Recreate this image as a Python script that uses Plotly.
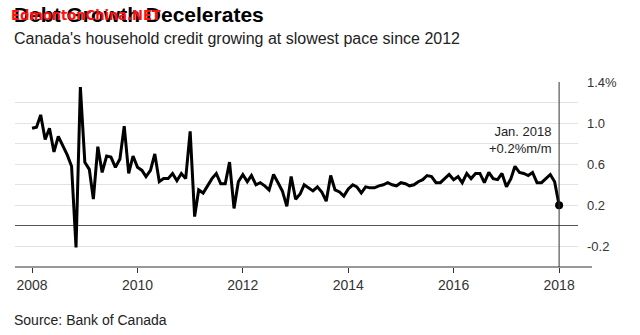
import pandas as pd
import plotly.graph_objects as go

# ---- data ----
start_month = "2008-01-01"
growth_mm = [
    0.95, 0.96, 1.08, 0.84, 0.95, 0.72, 0.87, 0.78, 0.69, 0.58, -0.21, 1.35,
    0.62, 0.55, 0.26, 0.77, 0.52, 0.68, 0.67, 0.57, 0.65, 0.97, 0.51, 0.68,
    0.57, 0.54, 0.48, 0.54, 0.70, 0.43, 0.46, 0.46, 0.51, 0.44, 0.51, 0.46,
    0.92, 0.09, 0.35, 0.32, 0.39, 0.46, 0.51, 0.41, 0.41, 0.62, 0.17, 0.43,
    0.50, 0.43, 0.49, 0.40, 0.42, 0.39, 0.35, 0.50, 0.42, 0.34, 0.19, 0.48,
    0.26, 0.31, 0.40, 0.37, 0.34, 0.38, 0.33, 0.24, 0.49, 0.35, 0.33, 0.29,
    0.36, 0.40, 0.38, 0.32, 0.38, 0.37, 0.37, 0.39, 0.40, 0.42, 0.40, 0.39,
    0.42, 0.41, 0.39, 0.40, 0.43, 0.45, 0.49, 0.48, 0.42, 0.42, 0.46, 0.50,
    0.45, 0.48, 0.42, 0.51, 0.46, 0.51, 0.51, 0.42, 0.52, 0.46, 0.45, 0.51,
    0.38, 0.46, 0.58, 0.52, 0.51, 0.49, 0.52, 0.42, 0.42, 0.46, 0.50, 0.43,
    0.20,
]
months = pd.date_range(start_month, periods=len(growth_mm), freq="MS")

x_tick_years = [2008, 2010, 2012, 2014, 2016, 2018]
y_tick_vals = [-0.2, 0.0, 0.2, 0.4, 0.6, 0.8, 1.0, 1.2, 1.4]
y_tick_text = ["-0.2", "", "0.2", "", "0.6", "", "1.0", "", "1.4%"]

title_text = "Debt Growth Decelerates"
watermark_text = "EdmontonChina.NET"
subtitle_text = "Canada's household credit growing at slowest pace since 2012"
source_text = "Source: Bank of Canada"
callout_text = "Jan. 2018<br>+0.2%m/m"

# ---- layout geometry ----
W, H = 640, 335
L, R, T, B = 15, 62, 82, 68
PW, PH = W - L - R, H - T - B


def px(p):
    return (p - L) / PW


def py(p):
    return (H - B - p) / PH


FONT = "Liberation Sans, Arial, Helvetica, sans-serif"

fig = go.Figure()
fig.add_trace(go.Scatter(
    x=months, y=growth_mm, mode="lines",
    line=dict(color="#000000", width=3),
    hoverinfo="skip", showlegend=False,
))
fig.add_trace(go.Scatter(
    x=[months[-1]], y=[growth_mm[-1]], mode="markers",
    marker=dict(color="#000000", size=8),
    hoverinfo="skip", showlegend=False,
))

fig.update_layout(
    width=W, height=H,
    margin=dict(l=L, r=R, t=T, b=B),
    paper_bgcolor="white", plot_bgcolor="white",
    font=dict(family=FONT, color="#222222"),
    xaxis=dict(
        type="date",
        range=["2007-09-05", "2018-05-12"],
        tickvals=[pd.Timestamp(f"{y}-01-01") for y in x_tick_years],
        ticktext=[str(y) for y in x_tick_years],
        ticks="outside", ticklen=5, tickcolor="#333333", tickwidth=1,
        showgrid=False, zeroline=False, showline=False,
        tickfont=dict(size=14, color="#333333"),
        fixedrange=True,
    ),
    yaxis=dict(
        side="right",
        range=[-0.4, 1.4],
        tickvals=y_tick_vals, ticktext=y_tick_text,
        showgrid=True, gridcolor="#e2e2e2", gridwidth=1,
        zeroline=True, zerolinecolor="#555555", zerolinewidth=1,
        ticks="", ticklabelstandoff=8,
        tickfont=dict(size=13, color="#333333"),
        fixedrange=True,
    ),
)

# x baseline extending to the right, and the marker line at last point
fig.add_shape(type="line", xref="paper", yref="paper",
              x0=0, x1=px(592), y0=0, y1=0,
              line=dict(color="#333333", width=1))
fig.add_shape(type="line", xref="x", yref="paper",
              x0=months[-1], x1=months[-1], y0=0, y1=1,
              line=dict(color="#333333", width=1))

# texts
fig.add_annotation(text=f"<b>{title_text}</b>", xref="paper", yref="paper",
                   x=px(12), y=py(15), xanchor="left", yanchor="middle",
                   showarrow=False, font=dict(size=21, color="#000000"))
fig.add_annotation(text=f"<b>{watermark_text}</b>", xref="paper", yref="paper",
                   x=px(9), y=py(15), xanchor="left", yanchor="middle",
                   showarrow=False,
                   font=dict(size=14.5, color="#ff1010",
                             family="Liberation Sans Narrow, DejaVu Sans Condensed, Liberation Sans"))
fig.add_annotation(text=subtitle_text, xref="paper", yref="paper",
                   x=px(12), y=py(38), xanchor="left", yanchor="middle",
                   showarrow=False, font=dict(size=16, color="#222222"))
fig.add_annotation(text=source_text, xref="paper", yref="paper",
                   x=px(12), y=py(320), xanchor="left", yanchor="middle",
                   showarrow=False, font=dict(size=14, color="#222222"))
fig.add_annotation(text=callout_text, xref="paper", yref="paper",
                   x=px(554), y=py(139.5), xanchor="right", yanchor="middle",
                   align="right", showarrow=False,
                   font=dict(size=13, color="#222222"))

fig.write_html("out.html")
